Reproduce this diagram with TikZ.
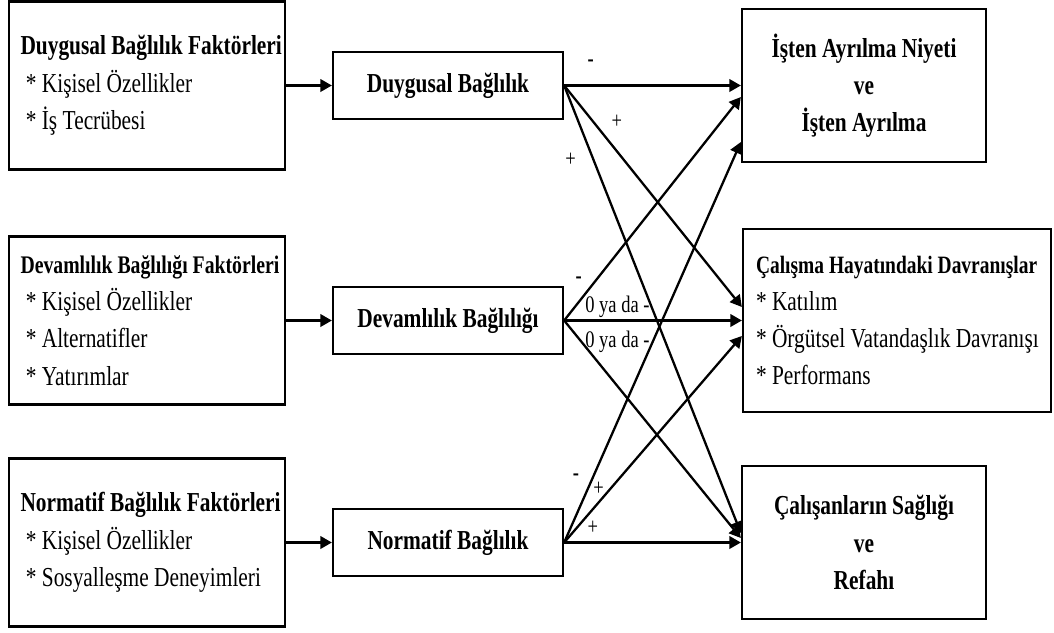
\documentclass[tikz,border=0pt]{standalone}
\usepackage{fontspec}
\setmainfont{Liberation Serif}[FakeStretch=0.78]
\usetikzlibrary{arrows.meta}
\newcommand{\baslik}[2][15.6]{\mbox{\fontsize{#1}{21.2}\selectfont\bfseries #2}}
\newcommand{\madde}[1]{\mbox{* #1}}

\begin{document}
\begin{tikzpicture}[node distance=47mm, >={Triangle[length=2.3mm, width=2.5mm]}, line width=1.3pt,
    govde/.style={font=\fontsize{15.6}{21.2}\selectfont},
    faktor/.style={govde, rectangle, draw, align=flush left, text width=50.6mm, inner xsep=2.3mm, minimum height=33.6mm},
    bag/.style={govde, rectangle, draw, minimum width=46mm, minimum height=13.4mm},
    sonuc/.style={govde, rectangle, draw, align=center, minimum width=48.8mm, minimum height=30.6mm},
    isaret/.style={inner sep=0.3mm, font=\fontsize{13.5}{15}\selectfont}]

    \useasboundingbox (0,0) rectangle (210.8mm,-126.4mm);

    % sonuclar
    \node[sonuc] (ayrilma) at (172.8mm,-17.1mm) {\baslik{İşten Ayrılma Niyeti}\\\baslik{ve}\\\baslik{İşten Ayrılma}};
    \node[sonuc, align=flush left, text width=56.4mm, inner xsep=2.6mm, minimum height=36.6mm, below of=ayrilma, xshift=6.6mm] (davranis) {\baslik[14.2]{Çalışma Hayatındaki Davranışlar}\\\madde{Katılım}\\\madde{Örgütsel Vatandaşlık Davranışı}\\\madde{Performans}};
    \node[sonuc, below of=ayrilma, node distance=91.4mm] (saglik) {\baslik{Çalışanların Sağlığı}\\\baslik{ve}\\\baslik{Refahı}};

    % bagliliklar
    \node[bag, left of=ayrilma, node distance=83.2mm] (duygusal) {\baslik{Duygusal Bağlılık}};
    \node[bag, below of=duygusal] (devam) {\baslik{Devamlılık Bağlılığı}};
    \node[bag, below of=duygusal, node distance=91.4mm] (normatif) {\baslik{Normatif Bağlılık}};

    % faktorler
    \node[faktor, left of=duygusal, node distance=60.2mm] (fduygusal) {\baslik{Duygusal Bağlılık Faktörleri}\\~\madde{Kişisel Özellikler}\\~\madde{İş Tecrübesi}};
    \node[faktor, left of=devam, node distance=60.2mm] (fdevam) {\baslik[14.4]{Devamlılık Bağlılığı Faktörleri}\\~\madde{Kişisel Özellikler}\\~\madde{Alternatifler}\\~\madde{Yatırımlar}};
    \node[faktor, left of=normatif, node distance=60.2mm] (fnormatif) {\baslik{Normatif Bağlılık Faktörleri}\\~\madde{Kişisel Özellikler}\\~\madde{Sosyalleşme Deneyimleri}};

    \draw[->] (fduygusal) -- (duygusal);
    \draw[->] (fdevam) -- (devam);
    \draw[->] (fnormatif) -- (normatif);

    \draw[->] (duygusal) -- node[isaret, pos=0.15, yshift=4.5mm] {\textbf{-}} (ayrilma);
    \draw[->] (duygusal.east) -- node[isaret, pos=0.296, yshift=5.8mm] {+} ([yshift=2.7mm]davranis.west);
    \draw[->] (duygusal.east) -- node[isaret, pos=0.166, xshift=-4.6mm] {+} ([yshift=1.9mm]saglik.west);

    \draw[->] (devam.east) -- node[isaret, pos=0.19, xshift=-3.8mm, yshift=-0.4mm] {\textbf{-}} ([yshift=-2.3mm]ayrilma.west);
    \draw[->] (devam) -- node[isaret, above, pos=0.3] {0 ya da -} node[isaret, below=1.5mm, pos=0.3] {0 ya da -} (davranis);
    \draw[->] (devam.east) -- ([yshift=0.9mm]saglik.west);

    \draw[->] (normatif.east) -- node[isaret, pos=0.1685, xshift=-3.6mm, yshift=-0.4mm] {\textbf{-}} ([yshift=-11.3mm]ayrilma.west);
    \draw[->] (normatif.east) -- node[isaret, pos=0.259, xshift=-2.3mm] {+} ([yshift=-3.1mm]davranis.west);
    \draw[->] (normatif) -- node[isaret, pos=0.162, yshift=2.9mm] {+} (saglik);

\end{tikzpicture}
\end{document}
